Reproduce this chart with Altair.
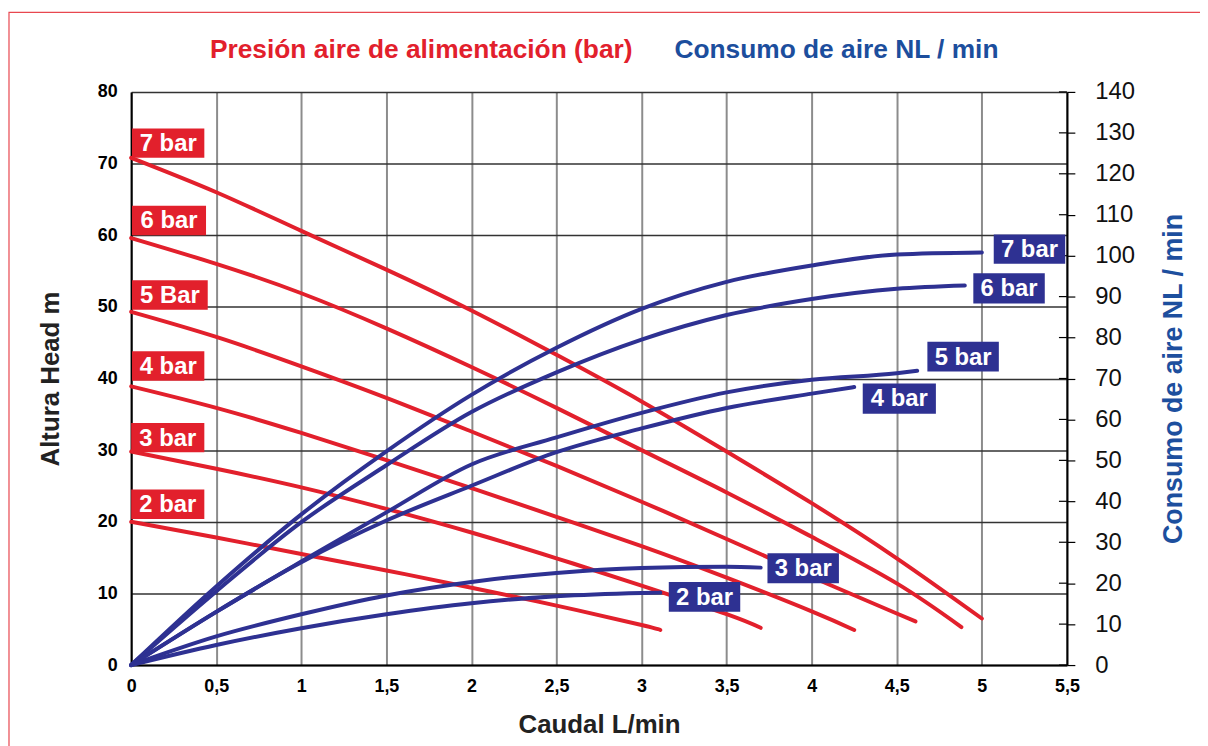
import altair as alt
import pandas as pd

RED = "#e2202c"
NAVY = "#2e3192"
TITLE_BLUE_A = "rgb(28,78,157)"
TITLE_BLUE_B = "#1d4f9e"
FONT = "Liberation Sans"

# ---- Head curves (left axis, m) ----
HEAD_FLOW_7 = [0, 0.5, 1, 1.5, 2, 2.5, 3, 3.5, 4, 4.5, 5.0]
HEAD_7 = [70.8, 66.0, 60.6, 55.2, 49.5, 43.3, 36.8, 29.8, 22.6, 14.9, 6.5]
HEAD_FLOW_6 = [0, 0.5, 1, 1.5, 2, 2.5, 3, 3.5, 4, 4.5, 4.88]
HEAD_6 = [59.6, 56.0, 51.9, 47.0, 41.6, 35.9, 30.0, 24.1, 17.9, 11.4, 5.3]
HEAD_FLOW_5 = [0, 0.5, 1, 1.5, 2, 2.5, 3, 3.5, 4, 4.5, 4.61]
HEAD_5 = [49.3, 45.8, 41.7, 37.3, 32.6, 27.8, 22.8, 17.6, 12.3, 7.2, 6.1]
HEAD_FLOW_4 = [0, 0.5, 1, 1.5, 2, 2.5, 3, 3.5, 4, 4.25]
HEAD_4 = [38.9, 35.9, 32.4, 28.6, 24.7, 20.7, 16.6, 12.2, 7.5, 4.9]
HEAD_FLOW_3 = [0, 0.5, 1, 1.5, 2, 2.5, 3, 3.5, 3.7]
HEAD_3 = [29.8, 27.4, 24.8, 21.8, 18.5, 14.9, 11.1, 7.1, 5.2]
HEAD_FLOW_2 = [0, 0.5, 1, 1.5, 2, 2.5, 3, 3.11]
HEAD_2 = [20.0, 17.8, 15.5, 13.2, 10.8, 8.3, 5.6, 4.9]

# ---- Air consumption curves (right axis, NL/min) ----
AIR_FLOW_7 = [0, 0.5, 1, 1.5, 2, 2.5, 3, 3.5, 4, 4.5, 5.0]
AIR_7 = [0, 19.2, 36.8, 52.2, 66.0, 77.5, 87.0, 93.6, 97.6, 100.3, 100.8]
AIR_FLOW_6 = [0, 0.5, 1, 1.5, 2, 2.5, 3, 3.5, 4, 4.5, 4.9]
AIR_6 = [0, 18.0, 34.9, 48.8, 61.8, 71.5, 79.5, 85.5, 89.4, 91.9, 92.7]
AIR_FLOW_5 = [0, 0.5, 1, 1.5, 2, 2.5, 3, 3.5, 4, 4.5, 4.62]
AIR_5 = [0, 13.0, 25.3, 37.3, 49.0, 55.6, 61.6, 66.6, 69.7, 71.3, 71.9]
AIR_FLOW_4 = [0, 0.5, 1, 1.5, 2, 2.5, 3, 3.5, 4, 4.25]
AIR_4 = [0, 13.0, 25.1, 35.3, 43.8, 52.0, 57.8, 62.8, 66.3, 67.9]
AIR_FLOW_3 = [0, 0.5, 1, 1.5, 2, 2.5, 3, 3.5, 3.7]
AIR_3 = [0, 7.0, 12.4, 17.0, 20.3, 22.5, 23.7, 24.0, 23.8]
AIR_FLOW_2 = [0, 0.5, 1, 1.5, 2, 2.5, 3, 3.11]
AIR_2 = [0, 4.9, 9.0, 12.4, 15.1, 16.8, 17.6, 17.7]

# ---- Label boxes ----
RED_LABELS = ["7 bar", "6 bar", "5 Bar", "4 bar", "3 bar", "2 bar"]
RED_BOX_X0 = [0.005, 0.005, 0.005, 0.005, 0.0, 0.0]
RED_BOX_X1 = [0.43, 0.44, 0.45, 0.43, 0.43, 0.43]
RED_BOX_Y0 = [70.8, 60.0, 49.6, 39.7, 29.7, 20.4]
RED_BOX_Y1 = [74.9, 64.1, 53.7, 43.8, 33.8, 24.5]

BLUE_LABELS = ["7 bar", "6 bar", "5 bar", "4 bar", "3 bar", "2 bar"]
BLUE_BOX_X0 = [5.07, 4.95, 4.68, 4.30, 3.74, 3.16]
BLUE_BOX_X1 = [5.49, 5.37, 5.10, 4.73, 4.16, 3.58]
BLUE_BOX_Y0 = [98.0, 88.3, 71.7, 61.4, 20.0, 13.0]
BLUE_BOX_Y1 = [105.2, 95.7, 79.0, 68.8, 27.3, 20.3]

X_TICKS = [0, 0.5, 1, 1.5, 2, 2.5, 3, 3.5, 4, 4.5, 5, 5.5]
LEFT_TICKS = [0, 10, 20, 30, 40, 50, 60, 70, 80]
RIGHT_TICKS = [0, 10, 20, 30, 40, 50, 60, 70, 80, 90, 100, 110, 120, 130, 140]

TITLE_RED = "Presión aire de alimentación (bar)"
TITLE_BLUE = "Consumo de aire NL / min"

W, H = 942, 577


def long(series):
    rows = []
    for name, fl, vals in series:
        for i, (f, v) in enumerate(zip(fl, vals)):
            rows.append({"p": name, "flow": f, "v": v, "i": i})
    return pd.DataFrame(rows)


red_df = long([
    ("7", HEAD_FLOW_7, HEAD_7), ("6", HEAD_FLOW_6, HEAD_6), ("5", HEAD_FLOW_5, HEAD_5),
    ("4", HEAD_FLOW_4, HEAD_4), ("3", HEAD_FLOW_3, HEAD_3), ("2", HEAD_FLOW_2, HEAD_2),
])
blue_df = long([
    ("7", AIR_FLOW_7, AIR_7), ("6", AIR_FLOW_6, AIR_6), ("5", AIR_FLOW_5, AIR_5),
    ("4", AIR_FLOW_4, AIR_4), ("3", AIR_FLOW_3, AIR_3), ("2", AIR_FLOW_2, AIR_2),
])


def boxes(labels, x0, x1, y0, y1):
    d = pd.DataFrame({"t": labels, "x0": x0, "x1": x1, "y0": y0, "y1": y1})
    d["xm"] = (d.x0 + d.x1) / 2
    d["ym"] = (d.y0 + d.y1) / 2
    return d


red_lab = boxes(RED_LABELS, RED_BOX_X0, RED_BOX_X1, RED_BOX_Y0, RED_BOX_Y1)
blue_lab = boxes(BLUE_LABELS, BLUE_BOX_X0, BLUE_BOX_X1, BLUE_BOX_Y0, BLUE_BOX_Y1)


def xs():
    return alt.Scale(domain=[0, 5.5], nice=False, zero=False)


def ls():
    return alt.Scale(domain=[0, 80], nice=False, zero=False)


def rs():
    return alt.Scale(domain=[0, 140], nice=False, zero=False)


def x_axis():
    return alt.Axis(
        values=X_TICKS, title="Caudal L/min",
        labelExpr="replace(format(datum.value, '~g'), '.', ',')",
        grid=True, gridColor="#8c8c8c", gridWidth=2, ticks=False, labelFlush=False,
        domainColor="#000", domainWidth=2,
        labelFont=FONT, labelFontSize=18, labelFontWeight="bold", labelColor="#000",
        labelPadding=13, titleFont=FONT, titleFontSize=26, titleFontWeight="bold",
        titleColor="#222", titlePadding=16,
    )


left_axis = alt.Axis(
    values=LEFT_TICKS, title="Altura Head m", orient="left",
    grid=True, gridColor="#333333", gridWidth=1.5, ticks=False,
    domainColor="#000", domainWidth=2,
    labelFont=FONT, labelFontSize=18, labelFontWeight="bold", labelColor="#000",
    labelPadding=14, titleFont=FONT, titleFontSize=26, titleFontWeight="bold",
    titleColor="#222", titlePadding=34,
)
right_axis = alt.Axis(
    values=RIGHT_TICKS, title=TITLE_BLUE, orient="right",
    grid=False, domainColor="#000", domainWidth=2, tickColor="#000", tickSize=8,
    tickWidth=1.2, labelFont=FONT, labelFontSize=24, labelColor="#111",
    labelPadding=20, titleFont=FONT, titleFontSize=27, titleFontWeight="bold",
    titleColor=TITLE_BLUE_B, titlePadding=26, titleAngle=270, titleBaseline="top",
)

frame = alt.Chart(pd.DataFrame({"a": [1]})).mark_rect(
    fillOpacity=0, stroke="#e8474f", strokeWidth=1.2
).encode(x=alt.value(-123), x2=alt.value(1200), y=alt.value(-80), y2=alt.value(800))

red_lines = alt.Chart(red_df).mark_line(
    interpolate="natural", strokeWidth=4, color=RED, strokeCap="round"
).encode(
    x=alt.X("flow:Q", scale=xs(), axis=x_axis()),
    y=alt.Y("v:Q", scale=ls(), axis=left_axis),
    detail="p:N", order="i:Q",
)
red_rects = alt.Chart(red_lab).mark_rect(color=RED).encode(
    x=alt.X("x0:Q", scale=xs(), axis=x_axis()), x2="x1:Q",
    y=alt.Y("y0:Q", scale=ls(), axis=None), y2="y1:Q",
)
red_texts = alt.Chart(red_lab).mark_text(
    font=FONT, fontSize=24, fontWeight="bold", color="white",
    align="center", baseline="middle", dy=1,
).encode(x=alt.X("xm:Q", scale=xs(), axis=x_axis()),
         y=alt.Y("ym:Q", scale=ls(), axis=None), text="t:N")

title_red = alt.Chart(pd.DataFrame({"t": [TITLE_RED]})).mark_text(
    font=FONT, fontSize=26.5, fontWeight="bold", color=RED, align="center", baseline="middle"
).encode(x=alt.value(292), y=alt.value(-42), text="t:N")
title_blue = alt.Chart(pd.DataFrame({"t": [TITLE_BLUE]})).mark_text(
    font=FONT, fontSize=26.5, fontWeight="bold", color=TITLE_BLUE_A, align="center", baseline="middle"
).encode(x=alt.value(710), y=alt.value(-42), text="t:N")

blue_lines = alt.Chart(blue_df).mark_line(
    interpolate="monotone", strokeWidth=4, color=NAVY, strokeCap="round"
).encode(
    x=alt.X("flow:Q", scale=xs(), axis=x_axis()),
    y=alt.Y("v:Q", scale=rs(), axis=right_axis),
    detail="p:N", order="i:Q",
)
inner_ticks = alt.Chart(pd.DataFrame({"v": RIGHT_TICKS})).mark_rule(
    color="#000", strokeWidth=1.2
).encode(x=alt.value(W - 8), x2=alt.value(W), y=alt.Y("v:Q", scale=rs(), axis=None))
blue_rects = alt.Chart(blue_lab).mark_rect(color=NAVY).encode(
    x=alt.X("x0:Q", scale=xs(), axis=x_axis()), x2="x1:Q",
    y=alt.Y("y0:Q", scale=rs(), axis=None), y2="y1:Q",
)
blue_texts = alt.Chart(blue_lab).mark_text(
    font=FONT, fontSize=24, fontWeight="bold", color="white",
    align="center", baseline="middle", dy=1,
).encode(x=alt.X("xm:Q", scale=xs(), axis=x_axis()),
         y=alt.Y("ym:Q", scale=rs(), axis=None), text="t:N")

chart = alt.layer(
    frame, red_lines, red_rects, red_texts, title_red, title_blue,
    blue_lines, inner_ticks, blue_rects, blue_texts,
).resolve_scale(y="independent").properties(
    width=W, height=H,
    autosize=alt.AutoSizeParams(type="none"),
    padding={"left": 124, "top": 82, "right": 134, "bottom": 79},
    background="white",
).configure_view(stroke=None)

chart.save("out.html", embed_options={"renderer": "svg", "actions": False})
